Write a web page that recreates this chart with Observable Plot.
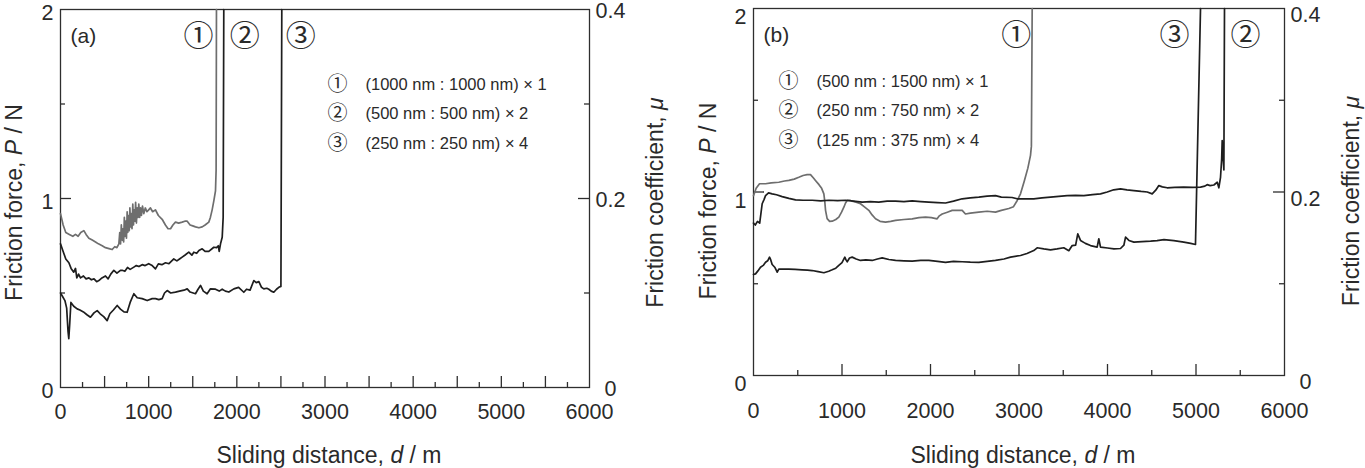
<!DOCTYPE html>
<html>
<head>
<meta charset="utf-8">
<script src="https://cdn.jsdelivr.net/npm/d3@7"></script>
<script src="https://cdn.jsdelivr.net/npm/@observablehq/plot@0.6"></script>
<style>
  html, body { margin: 0; padding: 0; background: #fff; }
  #fig { position: relative; width: 1365px; height: 468px; overflow: hidden; }
  #fig svg { position: absolute; top: 0; }
</style>
</head>
<body>
<div id="fig"></div>
<script>
// ---------- friction force P (N) versus sliding distance d (m) ----------
// (a) equal groove : ridge widths
const a1 = [[0,0.92],[30,0.86],[60,0.82],[100,0.81],[140,0.8],[170,0.81],[200,0.8],[230,0.82],[265,0.83],[290,0.81],[322,0.79],[360,0.78],[397,0.77],[430,0.76],[473,0.75],[510,0.74],[550,0.735],[586,0.73],[615,0.745],[640,0.74],[662,0.76],
  [672,0.82],[681,0.76],[690,0.86],[699,0.78],[707,0.84],[716,0.77],[724,0.9],[731,0.8],[740,0.88],[748,0.79],[756,0.93],[763,0.82],[772,0.91],[780,0.83],[787,0.95],[795,0.85],[803,0.92],[811,0.84],[820,0.97],[828,0.86],[836,0.94],[844,0.88],[852,0.98],[861,0.87],[870,0.95],[879,0.9],[888,0.97],[898,0.9],[908,0.95],[918,0.91],[930,0.96],[945,0.92],[962,0.95],[980,0.93],
  [1000,0.94],[1020,0.95],[1045,0.93],[1077,0.94],[1110,0.91],[1153,0.89],[1190,0.86],[1220,0.84],[1248,0.84],[1275,0.86],[1304,0.875],[1340,0.87],[1380,0.875],[1410,0.88],[1437,0.88],[1470,0.86],[1500,0.855],[1531,0.85],[1570,0.845],[1607,0.85],[1640,0.86],[1682,0.875],[1700,0.9],[1720,0.94],[1740,0.99],[1758,1.04],[1765,1.15],[1769,2.0]];
const a2 = [[0,0.76],[30,0.72],[60,0.68],[95,0.66],[120,0.63],[150,0.61],[170,0.63],[185,0.58],[205,0.6],[227,0.58],[260,0.59],[290,0.575],[322,0.58],[350,0.57],[380,0.575],[410,0.56],[435,0.566],[470,0.58],[510,0.59],[540,0.575],[570,0.6],[605,0.62],[640,0.605],[680,0.62],[700,0.62],[730,0.615],[760,0.635],[790,0.625],[832,0.637],[860,0.645],[890,0.64],[926,0.65],[960,0.645],[1000,0.655],[1040,0.645],[1077,0.628],[1110,0.654],[1150,0.65],[1191,0.66],[1230,0.655],[1285,0.68],[1320,0.67],[1350,0.68],[1380,0.69],[1410,0.7],[1455,0.716],[1490,0.7],[1512,0.716],[1545,0.71],[1570,0.725],[1607,0.734],[1640,0.72],[1682,0.72],[1739,0.742],[1770,0.74],[1790,0.75],[1800,0.72],[1815,0.76],[1834,0.795],[1845,0.9],[1852,2.0]];
const a3 = [[0,0.5],[25,0.48],[50,0.46],[70,0.42],[85,0.3],[94,0.258],[105,0.34],[118,0.45],[150,0.43],[189,0.416],[220,0.41],[260,0.4],[300,0.385],[340,0.372],[380,0.395],[416,0.407],[450,0.39],[490,0.375],[529,0.354],[560,0.39],[600,0.41],[643,0.434],[680,0.415],[720,0.4],[756,0.398],[790,0.45],[832,0.496],[870,0.475],[926,0.47],[983,0.46],[1040,0.47],[1077,0.47],[1115,0.465],[1153,0.47],[1180,0.5],[1210,0.513],[1250,0.5],[1304,0.505],[1350,0.51],[1400,0.515],[1437,0.522],[1470,0.505],[1531,0.496],[1560,0.52],[1588,0.54],[1620,0.51],[1663,0.496],[1701,0.522],[1758,0.52],[1800,0.51],[1834,0.52],[1870,0.51],[1909,0.505],[1966,0.522],[2020,0.53],[2079,0.504],[2110,0.52],[2150,0.515],[2193,0.566],[2220,0.555],[2250,0.56],[2280,0.53],[2306,0.522],[2340,0.525],[2363,0.52],[2390,0.51],[2419,0.504],[2450,0.52],[2476,0.53],[2500,0.535],[2510,2.0]];

// (b) groove : ridge = 1 : 3
const b1 = [[0,0.98],[30,1.02],[68,1.045],[136,1.045],[200,1.05],[286,1.053],[350,1.06],[399,1.063],[460,1.07],[512,1.08],[560,1.09],[606,1.095],[644,1.095],[680,1.075],[700,1.063],[740,1.04],[770,1.02],[795,0.99],[805,0.95],[814,0.9],[832,0.855],[860,0.84],[889,0.841],[930,0.85],[964,0.863],[995,0.89],[1021,0.917],[1040,0.94],[1059,0.954],[1090,0.955],[1115,0.95],[1160,0.945],[1209,0.936],[1250,0.92],[1303,0.9],[1340,0.875],[1379,0.854],[1430,0.84],[1492,0.836],[1550,0.84],[1605,0.845],[1700,0.85],[1793,0.854],[1870,0.86],[1944,0.863],[2010,0.86],[2075,0.854],[2100,0.87],[2132,0.88],[2190,0.89],[2245,0.9],[2300,0.9],[2358,0.9],[2395,0.88],[2450,0.885],[2546,0.89],[2640,0.895],[2734,0.89],[2800,0.9],[2885,0.91],[2938,0.92],[2980,0.954],[3017,0.99],[3060,1.06],[3100,1.13],[3130,1.2],[3140,1.25],[3149,2.0]];
const b2 = [[0,0.83],[20,0.82],[45,0.84],[70,0.83],[98,0.936],[120,0.96],[136,0.98],[170,0.995],[211,0.99],[260,0.985],[324,0.975],[400,0.965],[475,0.957],[560,0.955],[663,0.955],[760,0.952],[851,0.955],[950,0.953],[1040,0.955],[1130,0.95],[1228,0.945],[1320,0.948],[1416,0.945],[1510,0.95],[1605,0.95],[1700,0.948],[1793,0.952],[1890,0.948],[1981,0.945],[2080,0.942],[2170,0.94],[2260,0.95],[2358,0.963],[2450,0.968],[2546,0.972],[2640,0.978],[2734,0.98],[2800,0.972],[2922,0.97],[2979,0.963],[3070,0.962],[3167,0.963],[3260,0.968],[3356,0.972],[3450,0.976],[3544,0.98],[3640,0.982],[3733,0.98],[3830,0.986],[3921,0.99],[3997,1.0],[4070,1.012],[4147,1.017],[4220,1.012],[4298,1.008],[4380,1.003],[4449,1.0],[4505,0.99],[4545,1.01],[4580,1.035],[4620,1.028],[4674,1.023],[4760,1.025],[4862,1.027],[4960,1.025],[5051,1.027],[5100,1.032],[5126,1.04],[5160,1.035],[5202,1.038],[5240,1.053],[5258,1.023],[5277,1.08],[5290,1.18],[5296,1.28],[5305,1.2],[5315,1.12],[5322,2.0]];
const b3 = [[0,0.55],[23,0.554],[50,0.57],[79,0.59],[110,0.6],[136,0.617],[160,0.625],[181,0.645],[195,0.63],[211,0.605],[240,0.59],[268,0.563],[286,0.58],[330,0.58],[399,0.58],[470,0.578],[550,0.576],[610,0.574],[663,0.572],[730,0.566],[795,0.56],[850,0.568],[889,0.576],[930,0.585],[964,0.6],[1000,0.615],[1032,0.645],[1045,0.63],[1059,0.62],[1085,0.64],[1115,0.645],[1160,0.635],[1209,0.627],[1270,0.63],[1341,0.627],[1400,0.635],[1454,0.641],[1530,0.632],[1605,0.627],[1700,0.625],[1793,0.623],[1890,0.627],[1981,0.627],[2080,0.622],[2170,0.617],[2260,0.622],[2358,0.62],[2450,0.618],[2546,0.617],[2640,0.622],[2734,0.627],[2830,0.635],[2904,0.645],[3017,0.654],[3090,0.665],[3167,0.681],[3205,0.696],[3280,0.69],[3356,0.685],[3430,0.69],[3506,0.696],[3563,0.68],[3601,0.708],[3640,0.71],[3664,0.772],[3695,0.736],[3750,0.72],[3808,0.708],[3883,0.7],[3902,0.745],[3921,0.7],[4000,0.695],[4073,0.69],[4147,0.692],[4185,0.71],[4204,0.754],[4242,0.736],[4298,0.727],[4390,0.73],[4487,0.732],[4560,0.735],[4638,0.74],[4750,0.735],[4862,0.727],[4940,0.72],[4994,0.714],[5051,2.0]];

const legendA = ["(1000 nm : 1000 nm) × 1", "(500 nm : 500 nm) × 2", "(250 nm : 250 nm) × 4"];
const legendB = ["(500 nm : 1500 nm) × 1", "(250 nm : 750 nm) × 2", "(125 nm : 375 nm) × 4"];
const symbols = ["①", "②", "③"];

// axis ticks and labels
const xLabelTicks = [0, 1000, 2000, 3000, 4000, 5000, 6000];
const xMajorA = [500, 1000, 1500, 2000, 2500, 3000, 3500, 4000, 4500, 5000, 5500];
const xMinorA = [250, 750, 1250, 1750, 2250, 2750, 3250, 3750, 4250, 4750, 5250, 5750];
const xMajorB = [1000, 2000, 3000, 4000, 5000];
const xMinorB = [500, 1500, 2500, 3500, 4500, 5500];
const yLabelTicks = [0, 1, 2];
const yMajor = [1];
const yMinor = [0.5, 1.5];
const LOAD = 5; // normal load in N: friction coefficient = P / LOAD

const xTitle = ["Sliding distance, ", "d", " / m"];
const yTitle = ["Friction force, ", "P", " / N"];
const muTitle = ["Friction coefficient, ", "μ", ""];

const FONT = "'Liberation Sans', Arial, Helvetica, sans-serif";
const CJK = "'Noto Sans CJK JP', 'Noto Sans CJK SC', sans-serif";
const INK = "#2e2e2e";
const TXT = "#2a2a2a";
const GRAY = "#6e6e6e";
const DARK = "#1e1e1e";

function buildPanel(cfg) {
  const m = cfg.margin;
  const tickStyle = {stroke: INK, strokeWidth: 1.3};
  const marks = [
    Plot.frame({stroke: INK, strokeWidth: 1.3}),
    // inward ticks: bottom, left, right
    Plot.ruleX(cfg.xMajor, {x: d => d, y1: 0, y2: 0, insetTop: -cfg.major, ...tickStyle}),
    Plot.ruleX(cfg.xMinor, {x: d => d, y1: 0, y2: 0, insetTop: -cfg.minor, ...tickStyle}),
    Plot.ruleY(yMajor, {y: d => d, x1: 0, x2: 0, insetRight: -cfg.major, ...tickStyle}),
    Plot.ruleY(yMinor, {y: d => d, x1: 0, x2: 0, insetRight: -cfg.minor, ...tickStyle}),
    Plot.ruleY(yMajor, {y: d => d, x1: 6000, x2: 6000, insetLeft: -cfg.major, ...tickStyle}),
    Plot.ruleY(yMinor, {y: d => d, x1: 6000, x2: 6000, insetLeft: -cfg.minor, ...tickStyle}),
    // tick labels
    Plot.axisX(xLabelTicks, {anchor: "bottom", tickSize: 0, tickPadding: cfg.xPad, tickFormat: d => String(d), fontSize: 21.5, label: null}),
    Plot.axisY(yLabelTicks, {anchor: "left", tickSize: 0, tickPadding: 7, dy: cfg.yDy, tickFormat: d => String(d), fontSize: 21.5, label: null}),
    Plot.axisY(yLabelTicks, {anchor: "right", tickSize: 0, tickPadding: 21, textAnchor: "middle", dy: cfg.yDy - 2, tickFormat: d => String(+(d / LOAD).toFixed(1)), fontSize: 21.5, label: null}),
    // axis titles
    Plot.text([xTitle.join("")], {frameAnchor: "bottom", text: d => d, dx: 4, dy: cfg.xTitleDy, fontSize: 23, textAnchor: "middle", lineAnchor: "middle"}),
    Plot.text([yTitle.join("")], {frameAnchor: "left", text: d => d, rotate: -90, dx: cfg.yTitleDx, dy: cfg.yTitleDy, fontSize: 23, textAnchor: "middle", lineAnchor: "middle"}),
    Plot.text([muTitle.join("")], {frameAnchor: "right", text: d => d, rotate: -90, dx: cfg.muTitleDx, dy: cfg.yTitleDy, fontSize: 23, textAnchor: "middle", lineAnchor: "middle"}),
    // panel tag
    Plot.text([cfg.tag], {frameAnchor: "top-left", text: d => d, dx: 10, dy: 27, fontSize: 21, textAnchor: "start", lineAnchor: "middle"})
  ];
  // friction curves
  cfg.series.forEach(s => marks.push(Plot.line(s.data, {x: d => d[0], y: d => d[1], stroke: s.color, strokeWidth: 1.7})));
  // numbered markers at the point where each curve breaks away
  cfg.series.forEach((s, i) => {
    const last = s.data[s.data.length - 1];
    marks.push(Plot.text([last], {x: d => d[0], y: d => d[1], text: () => symbols[i], dx: s.dx, dy: 27, fontFamily: CJK, fontSize: 30, textAnchor: "middle", lineAnchor: "middle"}));
  });
  // legend
  cfg.legend.forEach((label, i) => {
    marks.push(Plot.text([symbols[i]], {frameAnchor: "top-left", text: d => d, dx: cfg.legX, dy: cfg.legY + i * 29.5, fontFamily: CJK, fontSize: 20, textAnchor: "middle", lineAnchor: "middle"}));
    marks.push(Plot.text([label], {frameAnchor: "top-left", text: d => d, dx: cfg.legX + 28, dy: cfg.legY + i * 29.5, fontSize: 16.5, textAnchor: "start", lineAnchor: "middle"}));
  });

  const svg = Plot.plot({
    width: cfg.width, height: 468,
    marginLeft: m[0], marginRight: m[1], marginTop: m[2], marginBottom: m[3],
    x: {domain: [0, 6000]},
    y: {domain: [0, 2]},
    style: {fontFamily: FONT, color: TXT, background: "transparent", overflow: "visible"},
    marks
  });

  // set the variable symbols in the axis titles in italics
  for (const parts of [xTitle, yTitle, muTitle]) {
    const full = parts.join("");
    svg.querySelectorAll("text").forEach(t => {
      if (t.textContent !== full) return;
      t.textContent = "";
      t.setAttribute("style", "white-space: pre");
      parts.forEach((p, k) => {
        if (!p) return;
        const span = document.createElementNS("http://www.w3.org/2000/svg", "tspan");
        span.textContent = p;
        if (k === 1) span.setAttribute("font-style", "italic");
        t.appendChild(span);
      });
    });
  }
  svg.style.left = cfg.left + "px";
  return svg;
}

const fig = document.getElementById("fig");
fig.appendChild(buildPanel({
  left: 0, width: 682, margin: [60, 93, 9, 81],
  tag: "(a)", legend: legendA, legX: 277, legY: 75,
  xMajor: xMajorA, xMinor: xMinorA, major: 11, minor: 5,
  xPad: 16, yDy: 4, xTitleDy: 68, yTitleDx: -46, yTitleDy: 4, muTitleDx: 66,
  series: [
    {data: a1, color: GRAY, dx: -18},
    {data: a2, color: DARK, dx: 21},
    {data: a3, color: DARK, dx: 19}
  ]
}));
fig.appendChild(buildPanel({
  left: 682, width: 683, margin: [71, 81, 8, 93],
  tag: "(b)", legend: legendB, legX: 35, legY: 73,
  xMajor: xMajorB, xMinor: xMinorB, major: 11, minor: 5,
  xPad: 27, yDy: 9, xTitleDy: 80, yTitleDx: -45, yTitleDy: 9, muTitleDx: 67,
  series: [
    {data: b1, color: GRAY, dx: -16},
    {data: b2, color: DARK, dx: 21},
    {data: b3, color: DARK, dx: -26}
  ]
}));
</script>
</body>
</html>
